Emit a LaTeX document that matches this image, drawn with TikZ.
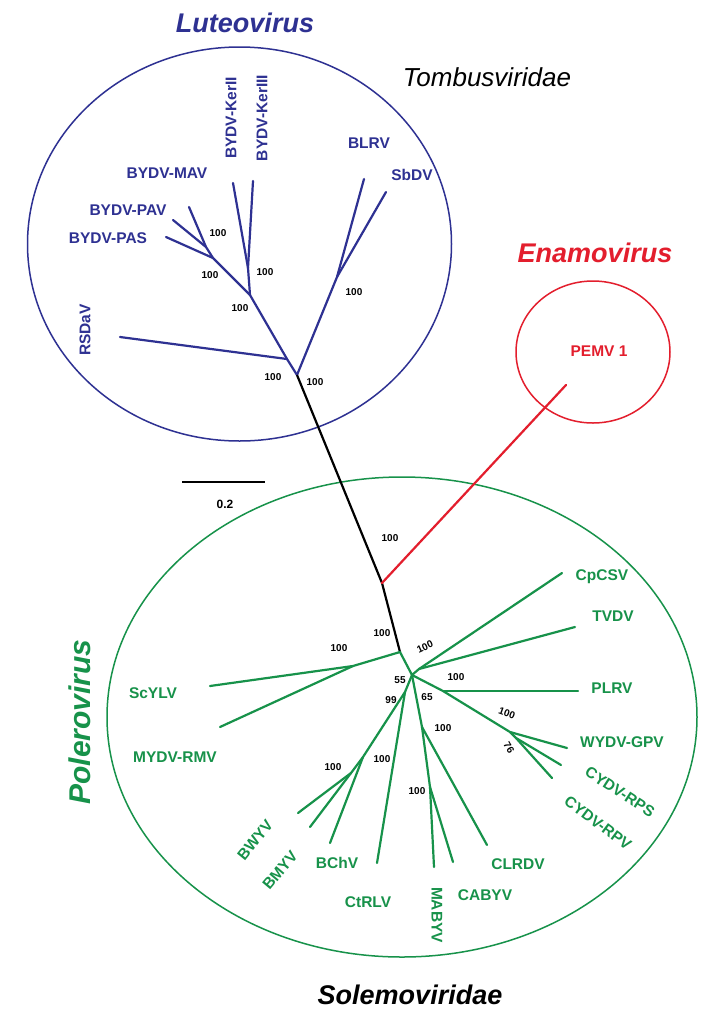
\documentclass[tikz,border=0pt]{standalone}
\usepackage{fontspec}
\setmainfont{Liberation Sans}
\definecolor{lblue}{HTML}{2E3192}
\definecolor{pgreen}{HTML}{17924A}
\definecolor{ered}{HTML}{E31E2D}
\begin{document}
\begin{tikzpicture}[x=1pt,y=-1pt,
  branch/.style={line width=2.2pt, line cap=round},
  rim/.style={line width=1.5pt},
  tiplab/.style={font=\fontsize{15.5}{17}\selectfont\bfseries, inner sep=0pt},
  boot/.style={font=\fontsize{10}{11}\selectfont\bfseries, inner sep=0pt},
  clade/.style={font=\fontsize{27}{30}\selectfont\bfseries\itshape, inner sep=0pt},
  family/.style={font=\fontsize{26}{30}\selectfont\itshape, inner sep=0pt}]
\useasboundingbox (0,0) rectangle (703,1013);
\fill[white] (0,0) rectangle (703,1013);

% ---------- clade outlines ----------
\draw[rim, lblue] (239.5,244) ellipse [x radius=212pt, y radius=197pt];
\draw[rim, ered] (593,352) ellipse [x radius=77pt, y radius=71pt];
\draw[rim, pgreen] (402,717) ellipse [x radius=295pt, y radius=240pt];

% ---------- coordinates ----------
\coordinate (R) at (297,375);
\coordinate (Ra) at (287,359);
\coordinate (tRSDaV) at (120,337);
\coordinate (N1) at (250,295);
\coordinate (N2) at (248,268);
\coordinate (tKerII) at (233,183);
\coordinate (tKerIII) at (253,181);
\coordinate (N3) at (213,258);
\coordinate (N4) at (206,247);
\coordinate (tPAS) at (166,237);
\coordinate (tPAV) at (173,220);
\coordinate (tMAV) at (189,207);
\coordinate (N5) at (337,277);
\coordinate (tBLRV) at (364,179);
\coordinate (tSbDV) at (386,192);

\coordinate (T1) at (382,583);
\coordinate (tPEMV) at (566,385);

\coordinate (A) at (400,652);
\coordinate (S) at (353,666);
\coordinate (tScYLV) at (210,686);
\coordinate (tMYDV) at (220,727);
\coordinate (B) at (412,675);
\coordinate (C) at (419,669);
\coordinate (tCpCSV) at (562,573);
\coordinate (tTVDV) at (575,627);
\coordinate (D) at (443,691);
\coordinate (tPLRV) at (578,691);
\coordinate (E) at (510,732);
\coordinate (F) at (516,738);
\coordinate (tWYDV) at (567,748);
\coordinate (tRPS) at (561,765);
\coordinate (tRPV) at (552,778);
\coordinate (G) at (405,692);
\coordinate (H) at (363,757);
\coordinate (I) at (351,773);
\coordinate (tBWYV) at (298,813);
\coordinate (tBMYV) at (310,827);
\coordinate (tBChV) at (330,843);
\coordinate (tCtRLV) at (377,863);
\coordinate (J) at (422,727);
\coordinate (K) at (430,787);
\coordinate (tCLRDV) at (487,845);
\coordinate (tMABYV) at (434,867);
\coordinate (tCABYV) at (453,862);

% ---------- branches ----------
\draw[branch, lblue] (R) -- (Ra) -- (N1) -- (N2) -- (tKerII);
\draw[branch, lblue] (N2) -- (tKerIII);
\draw[branch, lblue] (Ra) -- (tRSDaV);
\draw[branch, lblue] (N1) -- (N3) -- (tPAS);
\draw[branch, lblue] (N3) -- (N4) -- (tPAV);
\draw[branch, lblue] (N4) -- (tMAV);
\draw[branch, lblue] (R) -- (N5) -- (tBLRV);
\draw[branch, lblue] (N5) -- (tSbDV);

\draw[branch, black, line cap=butt] (R) -- (T1) -- (A);
\draw[branch, ered] (T1) -- (tPEMV);

\draw[branch, pgreen] (A) -- (S) -- (tScYLV);
\draw[branch, pgreen] (S) -- (tMYDV);
\draw[branch, pgreen] (A) -- (B) -- (C) -- (tCpCSV);
\draw[branch, pgreen] (C) -- (tTVDV);
\draw[branch, pgreen] (B) -- (D) -- (E) -- (tWYDV);
\draw[branch, pgreen] (D) -- (tPLRV);
\draw[branch, pgreen] (E) -- (F) -- (tRPS);
\draw[branch, pgreen] (F) -- (tRPV);
\draw[branch, pgreen] (B) -- (G) -- (H) -- (I) -- (tBWYV);
\draw[branch, pgreen] (I) -- (tBMYV);
\draw[branch, pgreen] (H) -- (tBChV);
\draw[branch, pgreen] (G) -- (tCtRLV);
\draw[branch, pgreen] (B) -- (J) -- (tCLRDV);
\draw[branch, pgreen] (J) -- (K) -- (tMABYV);
\draw[branch, pgreen] (K) -- (tCABYV);

% ---------- scale bar ----------
\coordinate (sbL) at (182,482);
\coordinate (sbR) at (265,482);
\draw[branch, black, line cap=butt] (sbL) -- (sbR);
\node[font=\fontsize{12}{13}\selectfont\bfseries, inner sep=0pt] (sblab) at (225,504) {0.2};

% ---------- tip labels ----------
\begin{scope}[lblue]
\node[tiplab] (lMAV) at (167,173) {BYDV-MAV};
\node[tiplab] (lPAV) at (128,210) {BYDV-PAV};
\node[tiplab] (lPAS) at (108,238) {BYDV-PAS};
\node[tiplab, rotate=90] (lKerII) at (231,118) {BYDV-KerII};
\node[tiplab, rotate=90] (lKerIII) at (262,118) {BYDV-KerIII};
\node[tiplab, rotate=90] (lRSDaV) at (85,330) {RSDaV};
\node[tiplab] (lBLRV) at (369,143) {BLRV};
\node[tiplab] (lSbDV) at (412,175) {SbDV};
\end{scope}
\node[tiplab, ered] (lPEMV) at (599,351) {PEMV 1};
\begin{scope}[pgreen]
\node[tiplab] (lCpCSV) at (602,577) {CpCSV};
\node[tiplab] (lTVDV) at (613,616) {TVDV};
\node[tiplab] (lPLRV) at (612,688) {PLRV};
\node[tiplab] (lWYDV) at (622,742) {WYDV-GPV};
\node[tiplab, rotate=-33] (lRPS) at (620,792) {CYDV-RPS};
\node[tiplab, rotate=-37] (lRPV) at (598,823) {CYDV-RPV};
\node[tiplab] (lCLRDV) at (518,864) {CLRDV};
\node[tiplab] (lCABYV) at (485,895) {CABYV};
\node[tiplab, rotate=-90] (lMABYV) at (437,915) {MABYV};
\node[tiplab] (lCtRLV) at (368,902) {CtRLV};
\node[tiplab] (lBChV) at (337,863) {BChV};
\node[tiplab, rotate=50] (lBMYV) at (280,870) {BMYV};
\node[tiplab, rotate=51] (lBWYV) at (255,840) {BWYV};
\node[tiplab] (lMYDV) at (175,757) {MYDV-RMV};
\node[tiplab] (lScYLV) at (153,693) {ScYLV};
\end{scope}

% ---------- bootstrap values ----------
\node[boot] (b1) at (273,377) {100};
\node[boot] (b2) at (315,382) {100};
\node[boot] (b3) at (240,308) {100};
\node[boot] (b4) at (265,272) {100};
\node[boot] (b5) at (210,275) {100};
\node[boot] (b6) at (218,233) {100};
\node[boot] (b7) at (354,292) {100};
\node[boot] (b8) at (390,538) {100};
\node[boot] (b9) at (382,633) {100};
\node[boot] (b10) at (339,648) {100};
\node[boot, rotate=25] (b11) at (425,647) {100};
\node[boot] (b12) at (400,680) {55};
\node[boot] (b13) at (391,700) {99};
\node[boot] (b14) at (427,697) {65};
\node[boot] (b15) at (456,677) {100};
\node[boot, rotate=-20] (b16) at (507,713) {100};
\node[boot, rotate=-60] (b17) at (509,748) {76};
\node[boot] (b18) at (443,728) {100};
\node[boot] (b19) at (417,791) {100};
\node[boot] (b20) at (333,767) {100};
\node[boot] (b21) at (382,759) {100};

% ---------- group names ----------
\node[clade, lblue] (nLuteo) at (245,23) {Luteovirus};
\node[family] (nTombus) at (487,77) {Tombusviridae};
\node[clade, ered] (nEnamo) at (595,253) {Enamovirus};
\node[clade, pgreen, rotate=90, font=\fontsize{30}{32}\selectfont\bfseries\itshape] (nPolero) at (80,722) {Polerovirus};
\node[clade] (nSolemo) at (410,995) {Solemoviridae};
\end{tikzpicture}
\end{document}
